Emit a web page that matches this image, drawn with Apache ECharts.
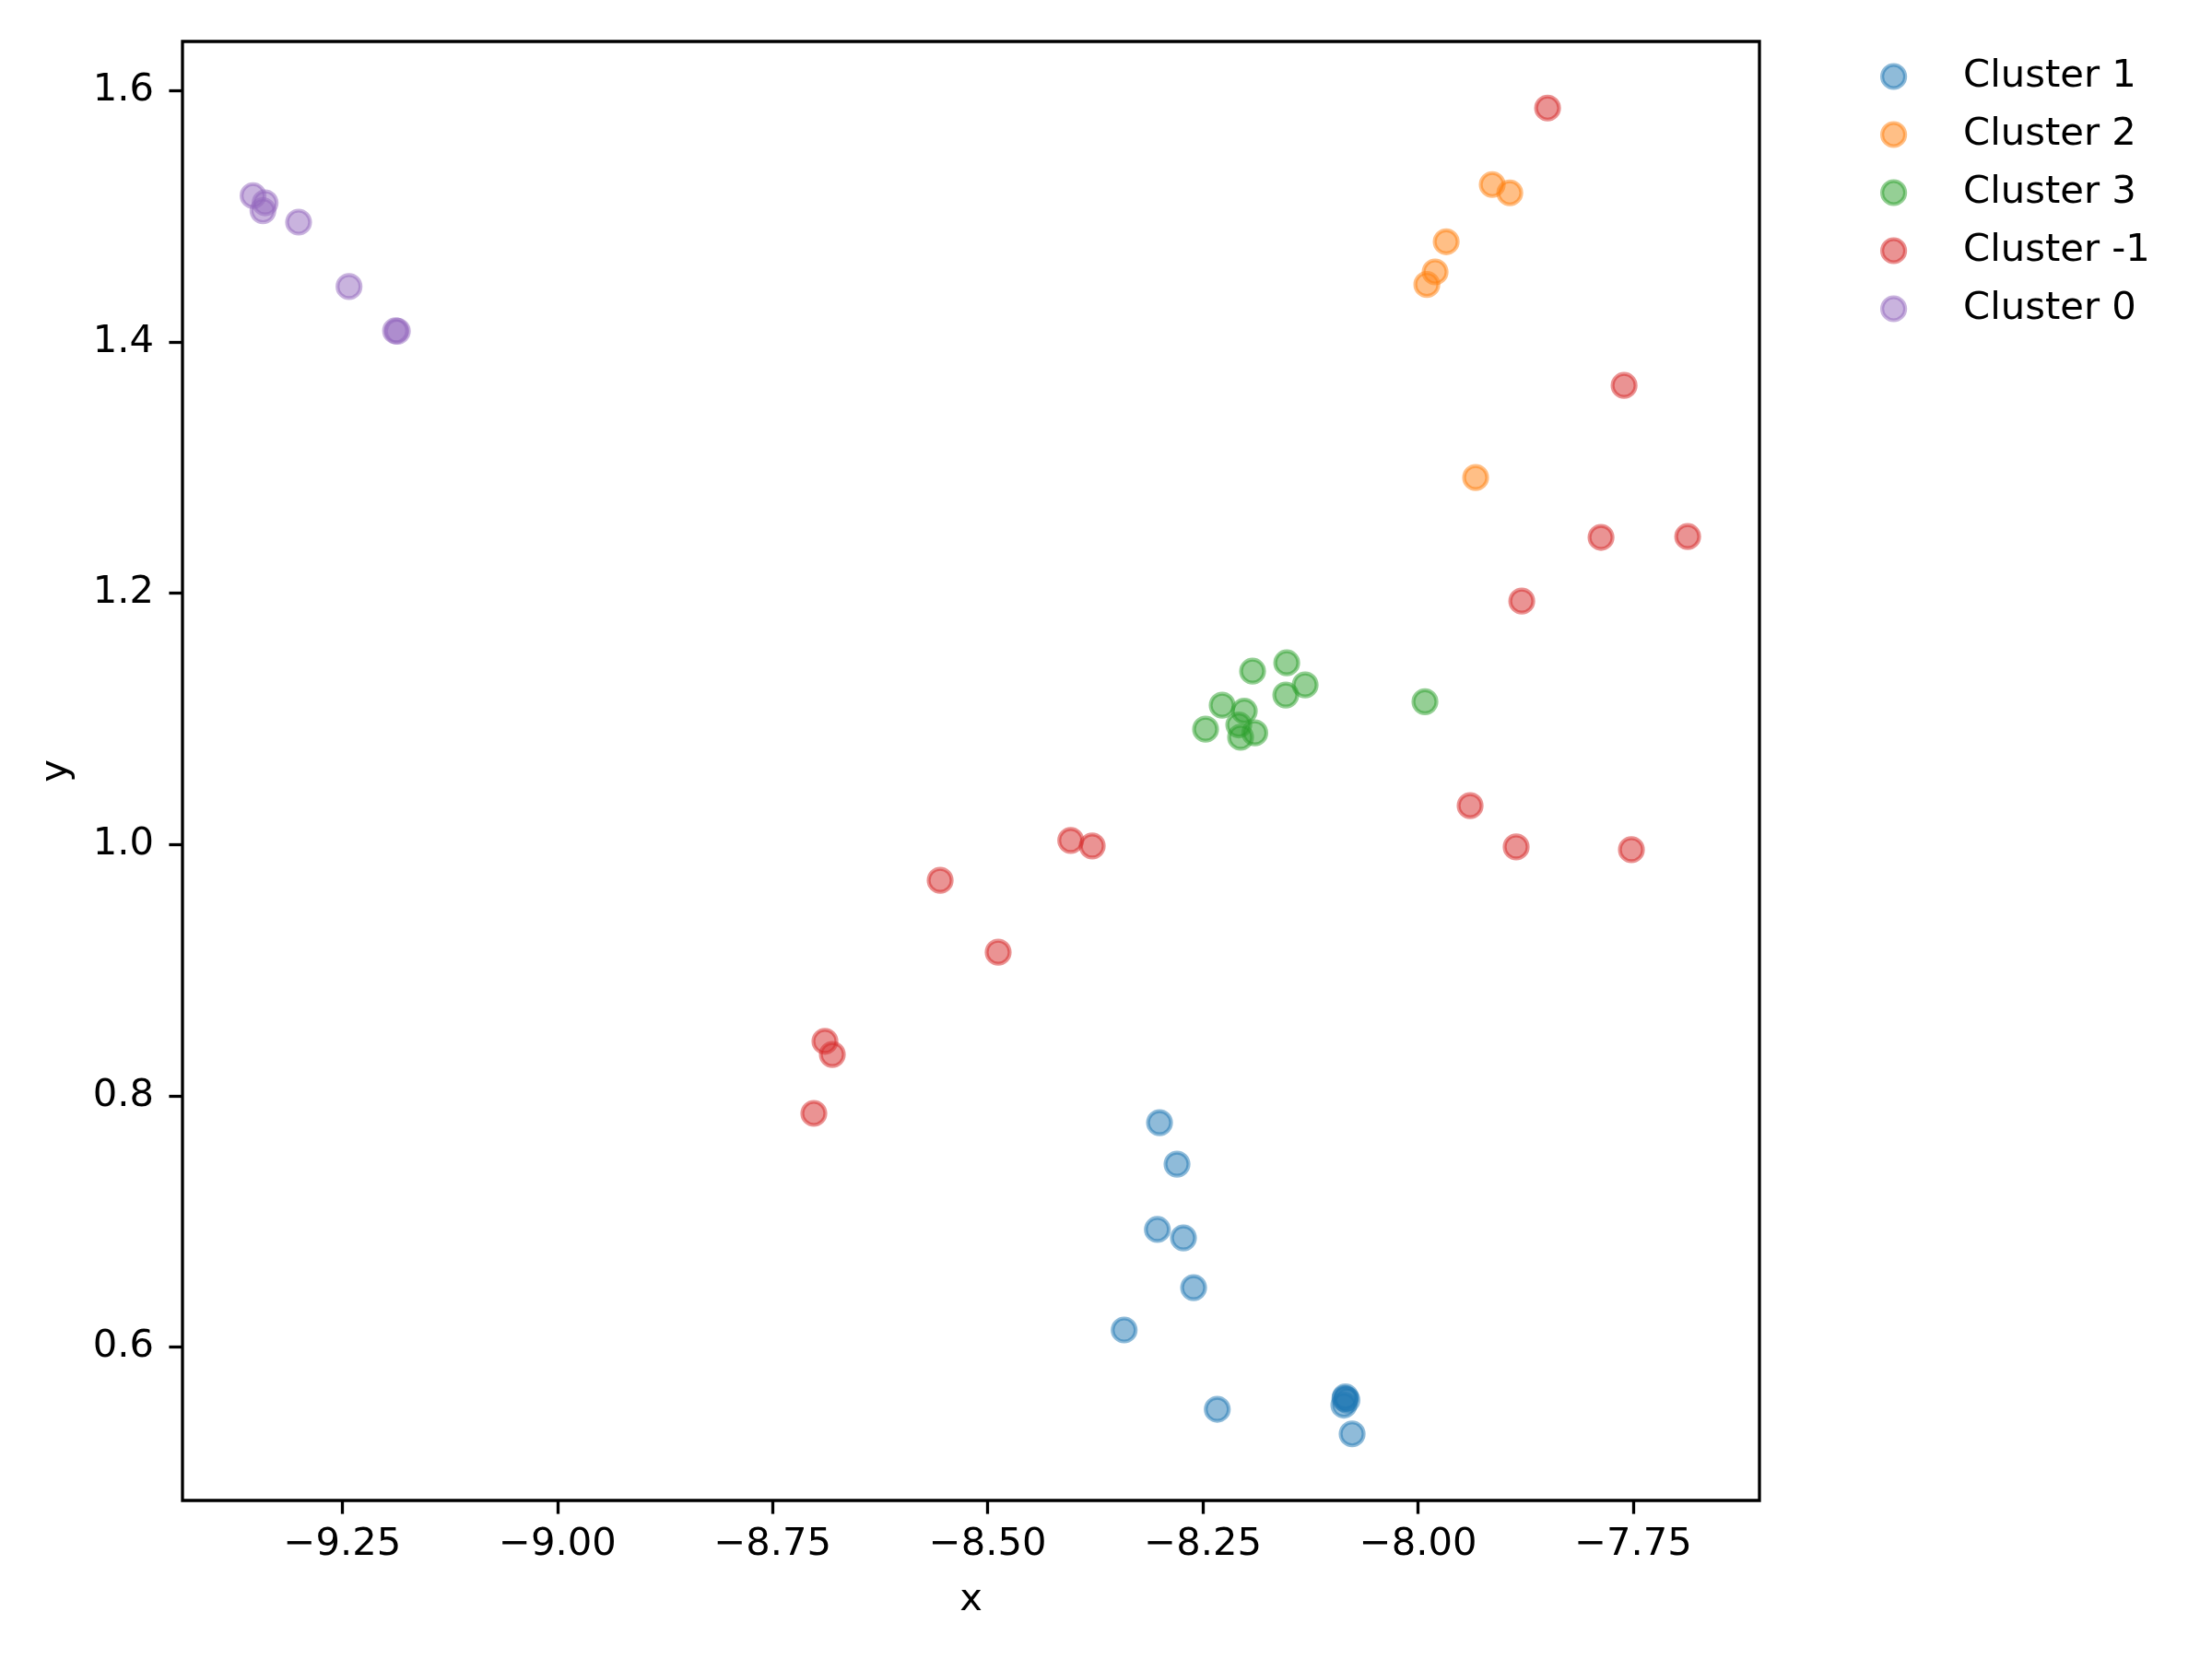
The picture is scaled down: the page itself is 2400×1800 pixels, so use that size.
<!DOCTYPE html>
<html lang="en">
<head>
    <meta charset="UTF-8">
    <title>Clusters</title>
    <style>
        body { margin: 0; background: #fff; }
    </style>
</head>
<body>
    <div id="chart" style="width: 2400px;height: 1800px;"></div>
    <script src="https://cdn.jsdelivr.net/npm/echarts@6/dist/echarts.min.js"></script>
    <script>
    // points per cluster
    var c1x = [-8.3004, -8.2801, -8.3029, -8.2726, -8.2608, -8.3415, -8.2333, -8.0844, -8.0862, -8.0826, -8.0850, -8.0766];
    var c1y = [0.7785, 0.7455, 0.6935, 0.6868, 0.6472, 0.6135, 0.5504, 0.5602, 0.5537, 0.5577, 0.5590, 0.5308];

    var c2x = [-7.9138, -7.8934, -7.9673, -7.9802, -7.9898, -7.9331];
    var c2y = [1.5252, 1.5186, 1.4797, 1.4557, 1.4457, 1.2920];

    var c3x = [-8.1923, -8.1526, -8.1312, -8.1537, -8.2276, -8.2019, -8.2083, -8.2469, -8.1897, -8.2062, -7.9920];
    var c3y = [1.1379, 1.1445, 1.1269, 1.1189, 1.1108, 1.1061, 1.0951, 1.0917, 1.0888, 1.0853, 1.1136];

    var cnx = [-7.8495, -7.7606, -7.7874, -7.6867, -7.8795, -7.9395, -7.8860, -7.7521, -8.4036, -8.3786, -8.5553, -8.4879, -8.6892, -8.6806, -8.7021];
    var cny = [1.5861, 1.3653, 1.2444, 1.2450, 1.1937, 1.0308, 0.9980, 0.9958, 1.0032, 0.9988, 0.9714, 0.9142, 0.8433, 0.8328, 0.7859];

    var c0x = [-9.3537, -9.3397, -9.3422, -9.3008, -9.2422, -9.1881, -9.1860];
    var c0y = [1.5164, 1.5107, 1.5044, 1.4953, 1.4440, 1.4088, 1.4085];

    var names = ['Cluster 1', 'Cluster 2', 'Cluster 3', 'Cluster -1', 'Cluster 0'];
    var colors = ['31,119,180', '255,127,14', '44,160,44', '214,39,40', '148,103,189'];

    var xTicks = [-9.25, -9.0, -8.75, -8.5, -8.25, -8.0, -7.75];
    var yTicks = [0.6, 0.8, 1.0, 1.2, 1.4, 1.6];

    var font = 'DejaVu Sans';
    var fs = 41.7;

    function zip(xs, ys) {
        return xs.map(function (v, i) { return [v, ys[i]]; });
    }
    function minus(s) {
        return s.replace('-', '\u2212');
    }
    function markStyle(i) {
        var c = 'rgba(' + colors[i] + ',0.5)';
        // scatter defaults to opacity 0.8, alpha is already in the colour
        return { color: c, borderColor: c, borderWidth: 4.2, opacity: 1 };
    }

    var groups = [[c1x, c1y], [c2x, c2y], [c3x, c3y], [cnx, cny], [c0x, c0y]];
    var series = groups.map(function (g, i) {
        return {
            name: names[i],
            type: 'scatter',
            data: zip(g[0], g[1]),
            symbol: 'circle',
            symbolSize: 25,
            itemStyle: markStyle(i),
            emphasis: { disabled: true }
        };
    });
    var legendData = names.map(function (n, i) {
        return { name: n, icon: 'circle', itemStyle: markStyle(i) };
    });

    var chart = echarts.init(document.getElementById('chart'));
    chart.setOption({
        animation: false,
        backgroundColor: '#fff',
        textStyle: { fontFamily: font },
        grid: {
            left: 198, right: 491, top: 45, bottom: 172,
            show: true, borderColor: '#000', borderWidth: 3.3, backgroundColor: 'transparent'
        },
        legend: {
            orient: 'vertical',
            left: 2040, top: 59,
            padding: 0,
            itemGap: 15,
            itemWidth: 25, itemHeight: 25,
            data: legendData,
            textStyle: { fontFamily: font, fontSize: fs, color: '#000', lineHeight: 48, padding: [0, 0, 0, 58] }
        },
        xAxis: {
            type: 'value',
            min: -9.4357, max: -7.6033,
            name: 'x', nameLocation: 'middle', nameGap: 87,
            nameTextStyle: { fontFamily: font, fontSize: fs, color: '#000' },
            splitLine: { show: false },
            axisLine: { show: false },
            axisTick: { show: true, inside: false, length: 14.6, customValues: xTicks, lineStyle: { color: '#000', width: 3.3 } },
            axisLabel: {
                customValues: xTicks, margin: 27, fontFamily: font, fontSize: fs, color: '#000',
                formatter: function (v) { return minus(v.toFixed(2)); }
            }
        },
        yAxis: {
            type: 'value',
            min: 0.4778, max: 1.6391,
            name: 'y', nameLocation: 'middle', nameGap: 116,
            nameTextStyle: { fontFamily: font, fontSize: fs, color: '#000' },
            splitLine: { show: false },
            axisLine: { show: false },
            axisTick: { show: true, inside: false, length: 14.6, customValues: yTicks, lineStyle: { color: '#000', width: 3.3 } },
            axisLabel: {
                customValues: yTicks, margin: 31, fontFamily: font, fontSize: fs, color: '#000',
                formatter: function (v) { return v.toFixed(1); }
            }
        },
        series: series
    });
    </script>
</body>
</html>
